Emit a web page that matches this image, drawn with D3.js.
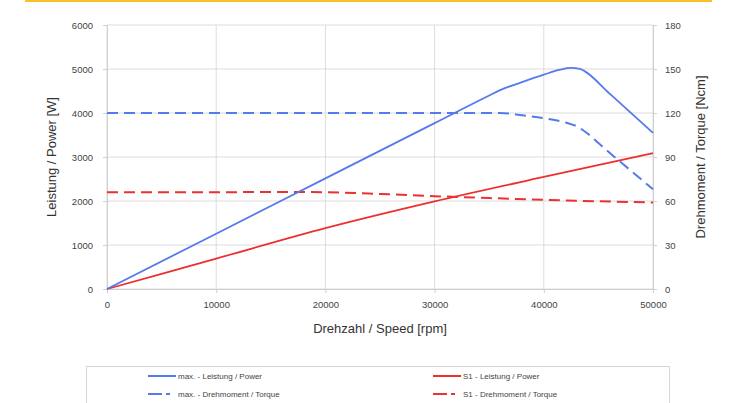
<!DOCTYPE html>
<html><head><meta charset="utf-8">
<script src="https://cdn.jsdelivr.net/npm/d3@7"></script>
<style>
body{margin:0;background:#fff;}
svg{display:block;font-family:"Liberation Sans",Arial,sans-serif;}
</style></head>
<body><svg id="c" width="738" height="403"></svg>
<script>
// ---- data ----
const xTicks = [0,10000,20000,30000,40000,50000];
const yLeftTicks = [0,1000,2000,3000,4000,5000,6000];
const yRightTicks = [0,30,60,90,120,150,180];

const maxPowerRpm = [0,10000,20000,30000,35000,36000,38000,40000,41500,42500,43300,43800,46000,48000,50000];
const maxPowerW   = [0,1257,2513,3770,4398,4520,4700,4870,4985,5025,5005,4940,4447,3999,3550];

const maxTorqueRpm = [0,34000,36000,38000,40000,42000,43000,44000,45000,46000,48000,50000];
const maxTorqueNcm = [120,120,120,118.5,116.5,113.5,111,106,99.5,93,80.5,68];

const s1PowerRpm = [0,10000,20000,30000,40000,50000];
const s1PowerW   = [0,691,1382,1990,2546,3090];

const s1TorqueRpm = [0,10000,17000,20000,25000,30000,35000,40000,45000,50000];
const s1TorqueNcm = [66,66,66.2,66,64.8,63.3,62,60.8,59.8,59];

const legendLabels = ["max. - Leistung / Power","S1 - Leistung / Power","max. - Drehmoment / Torque","S1 - Drehmoment / Torque"];

// ---- layout ----
const svg = d3.select("#c");
const L=107, R=653, T=25, B=289;
const blue="#5679ec", red="#ec3030";

svg.append("line").attr("x1",25).attr("x2",712).attr("y1",1).attr("y2",1)
  .attr("stroke","#f6c12a").attr("stroke-width",2);

const x = d3.scaleLinear().domain([0,50000]).range([L,R]);
const yL = d3.scaleLinear().domain([0,6000]).range([B,T]);
const yR = d3.scaleLinear().domain([0,180]).range([B,T]);

// grid
const g = svg.append("g");
g.selectAll(".hg").data(yLeftTicks).join("line")
  .attr("x1",L).attr("x2",R).attr("y1",d=>yL(d)).attr("y2",d=>yL(d))
  .attr("stroke","#dcdcdc").attr("stroke-width",1);
g.selectAll(".vg").data(xTicks).join("line")
  .attr("x1",d=>x(d)).attr("x2",d=>x(d)).attr("y1",T).attr("y2",B)
  .attr("stroke","#dcdcdc").attr("stroke-width",1);

// axes
function styleAxis(sel){
  sel.select(".domain").attr("stroke","#cfcfcf");
  sel.selectAll(".tick line").attr("stroke","#cfcfcf");
  sel.selectAll(".tick text").attr("fill","#444").attr("font-size","9.5px")
    .attr("font-family","'Liberation Sans',Arial,sans-serif");
}
svg.append("g").attr("transform",`translate(0,${B})`)
  .call(d3.axisBottom(x).tickValues(xTicks).tickFormat(d3.format("d")).tickSize(4).tickPadding(8))
  .call(styleAxis);
svg.append("g").attr("transform",`translate(${L},0)`)
  .call(d3.axisLeft(yL).tickValues(yLeftTicks).tickFormat(d3.format("d")).tickSize(4).tickPadding(10))
  .call(styleAxis);
svg.append("g").attr("transform",`translate(${R},0)`)
  .call(d3.axisRight(yR).tickValues(yRightTicks).tickFormat(d3.format("d")).tickSize(4).tickPadding(8))
  .call(styleAxis);

// titles
svg.append("text").attr("x",380).attr("y",333).attr("text-anchor","middle")
  .attr("font-size","13px").attr("fill","#333").text("Drehzahl / Speed [rpm]");
svg.append("text").attr("transform","translate(56,157) rotate(-90)").attr("text-anchor","middle")
  .attr("font-size","13px").attr("fill","#333").text("Leistung / Power [W]");
svg.append("text").attr("transform","translate(705,157) rotate(-90)").attr("text-anchor","middle")
  .attr("font-size","13px").attr("fill","#333").text("Drehmoment / Torque [Ncm]");

// lines
const lineL = d3.line().x(d=>x(d[0])).y(d=>yL(d[1])).curve(d3.curveMonotoneX);
const lineR = d3.line().x(d=>x(d[0])).y(d=>yR(d[1])).curve(d3.curveMonotoneX);
const zip=(a,b)=>a.map((v,i)=>[v,b[i]]);

svg.append("path").datum(zip(s1TorqueRpm,s1TorqueNcm)).attr("d",lineR)
  .attr("fill","none").attr("stroke",red).attr("stroke-width",2).attr("stroke-dasharray","11,6");
svg.append("path").datum(zip(maxTorqueRpm,maxTorqueNcm)).attr("d",lineR)
  .attr("fill","none").attr("stroke",blue).attr("stroke-width",2).attr("stroke-dasharray","11,6");
svg.append("path").datum(zip(s1PowerRpm,s1PowerW)).attr("d",lineL)
  .attr("fill","none").attr("stroke",red).attr("stroke-width",1.8);
svg.append("path").datum(zip(maxPowerRpm,maxPowerW)).attr("d",lineL)
  .attr("fill","none").attr("stroke",blue).attr("stroke-width",1.8);

// legend
svg.append("rect").attr("x",86.5).attr("y",366.5).attr("width",583).attr("height",50)
  .attr("fill","#fff").attr("stroke","#d6d6d6");
const leg=[
  {x:148,y:376,c:blue,dash:null,t:legendLabels[0]},
  {x:433,y:376,c:red,dash:null,t:legendLabels[1]},
  {x:148,y:394,c:blue,dash:"14,4,4,10",t:legendLabels[2]},
  {x:433,y:394,c:red,dash:"14,4,4,10",t:legendLabels[3]}
];
leg.forEach(e=>{
  svg.append("line").attr("x1",e.x).attr("x2",e.x+28).attr("y1",e.y).attr("y2",e.y)
    .attr("stroke",e.c).attr("stroke-width",2).attr("stroke-dasharray",e.dash);
  svg.append("text").attr("x",e.x+30).attr("y",e.y+3).attr("font-size","8px")
    .attr("fill","#444").text(e.t);
});
</script></body></html>
